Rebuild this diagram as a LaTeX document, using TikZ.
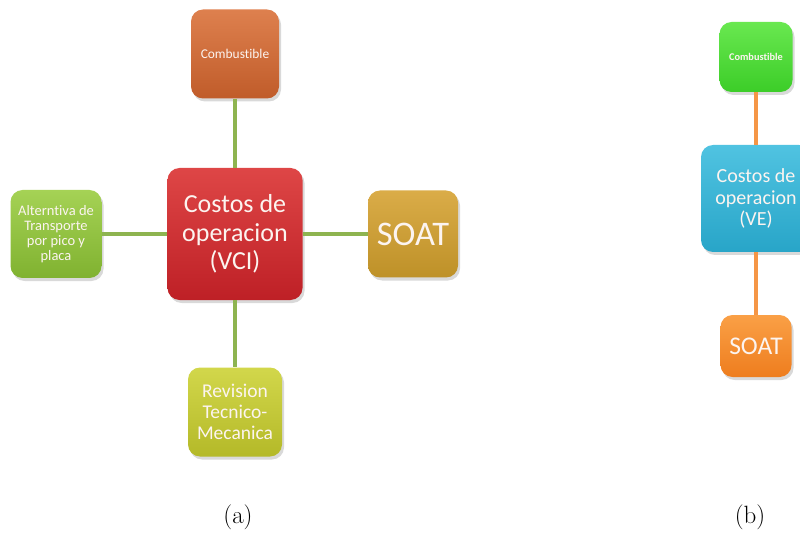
\documentclass[tikz,border=0pt]{standalone}
\usepackage{fontspec}
\newfontfamily\carlito[Ligatures=NoCommon]{Carlito}
\usetikzlibrary{shadows}
\definecolor{combT}{RGB}{222,128,78}
\definecolor{combB}{RGB}{192,92,42}
\definecolor{redT}{RGB}{222,70,70}
\definecolor{redB}{RGB}{190,32,38}
\definecolor{goldT}{RGB}{218,172,72}
\definecolor{goldB}{RGB}{190,145,40}
\definecolor{lgrT}{RGB}{165,210,85}
\definecolor{lgrB}{RGB}{128,178,48}
\definecolor{revT}{RGB}{210,215,75}
\definecolor{revB}{RGB}{180,185,40}
\definecolor{rgrT}{RGB}{105,232,80}
\definecolor{rgrB}{RGB}{60,205,40}
\definecolor{bluT}{RGB}{80,195,225}
\definecolor{bluB}{RGB}{40,165,200}
\definecolor{ornT}{RGB}{250,160,70}
\definecolor{ornB}{RGB}{238,125,30}
\definecolor{lineg}{RGB}{142,180,80}
\definecolor{lineo}{RGB}{245,150,70}
\definecolor{txt}{RGB}{252,244,240}
\begin{document}
\begin{tikzpicture}[x=1pt,y=-1pt,
  box/.style={rounded corners=12pt, draw=none, text=txt, align=center,
    inner sep=0pt, font=\carlito,
    drop shadow={shadow xshift=2pt,shadow yshift=-3pt,opacity=0.3}},
  linkg/.style={draw=lineg, line width=4pt},
  linko/.style={draw=lineo, line width=4pt},
  caption/.style={font=\fontsize{25}{29}\selectfont}
]
\useasboundingbox (0,0) rectangle (800,537);
\clip (0,0) rectangle (800,537);
% (a)
\node[box, top color=redT, bottom color=redB, minimum width=135pt, minimum height=132pt,
  font=\carlito\fontsize{26}{28.5}\selectfont] (vci) at (235,234) {Costos de\\operacion\\(VCI)};
\node[box, top color=combT, bottom color=combB, minimum width=88pt, minimum height=89pt,
  font=\carlito\fontsize{13.4}{15}\selectfont] (comb) at (235,54) {Combustible};
\node[box, top color=lgrT, bottom color=lgrB, minimum width=91pt, minimum height=88pt,
  font=\carlito\fontsize{14.5}{15}\selectfont] (alt) at (56,234) {Alterntiva de\\Transporte\\por pico y\\placa};
\node[box, top color=goldT, bottom color=goldB, minimum width=90pt, minimum height=87pt,
  font=\carlito\fontsize{34.5}{38}\selectfont] (soat) at (413,234) {SOAT};
\node[box, top color=revT, bottom color=revB, minimum width=94pt, minimum height=89pt,
  font=\carlito\fontsize{19.5}{21}\selectfont] (rev) at (235,412) {Revision\\Tecnico-\\Mecanica};
\draw[linkg] (comb.south) -- (vci.north);
\draw[linkg] (alt.east) -- (vci.west);
\draw[linkg] (vci.east) -- (soat.west);
\draw[linkg] (vci.south) -- (rev.north);
% (b)
\node[box, top color=rgrT, bottom color=rgrB, minimum width=73pt, minimum height=70pt,
  font=\carlito\bfseries\fontsize{10.3}{12}\selectfont] (comb2) at (756,57) {Combustible};
\node[box, top color=bluT, bottom color=bluB, minimum width=110pt, minimum height=107pt,
  font=\carlito\fontsize{20}{21.5}\selectfont] (ve) at (756,198.5) {Costos de\\operacion\\(VE)};
\node[box, top color=ornT, bottom color=ornB, minimum width=71pt, minimum height=62pt,
  font=\carlito\fontsize{25.5}{29}\selectfont] (soat2) at (756,346) {SOAT};
\draw[linko] (comb2.south) -- (ve.north);
\draw[linko] (ve.south) -- (soat2.north);
% captions
\node[caption] (capa) at (238,517) {(a)};
\node[caption] (capb) at (750,517) {(b)};
\end{tikzpicture}
\end{document}
